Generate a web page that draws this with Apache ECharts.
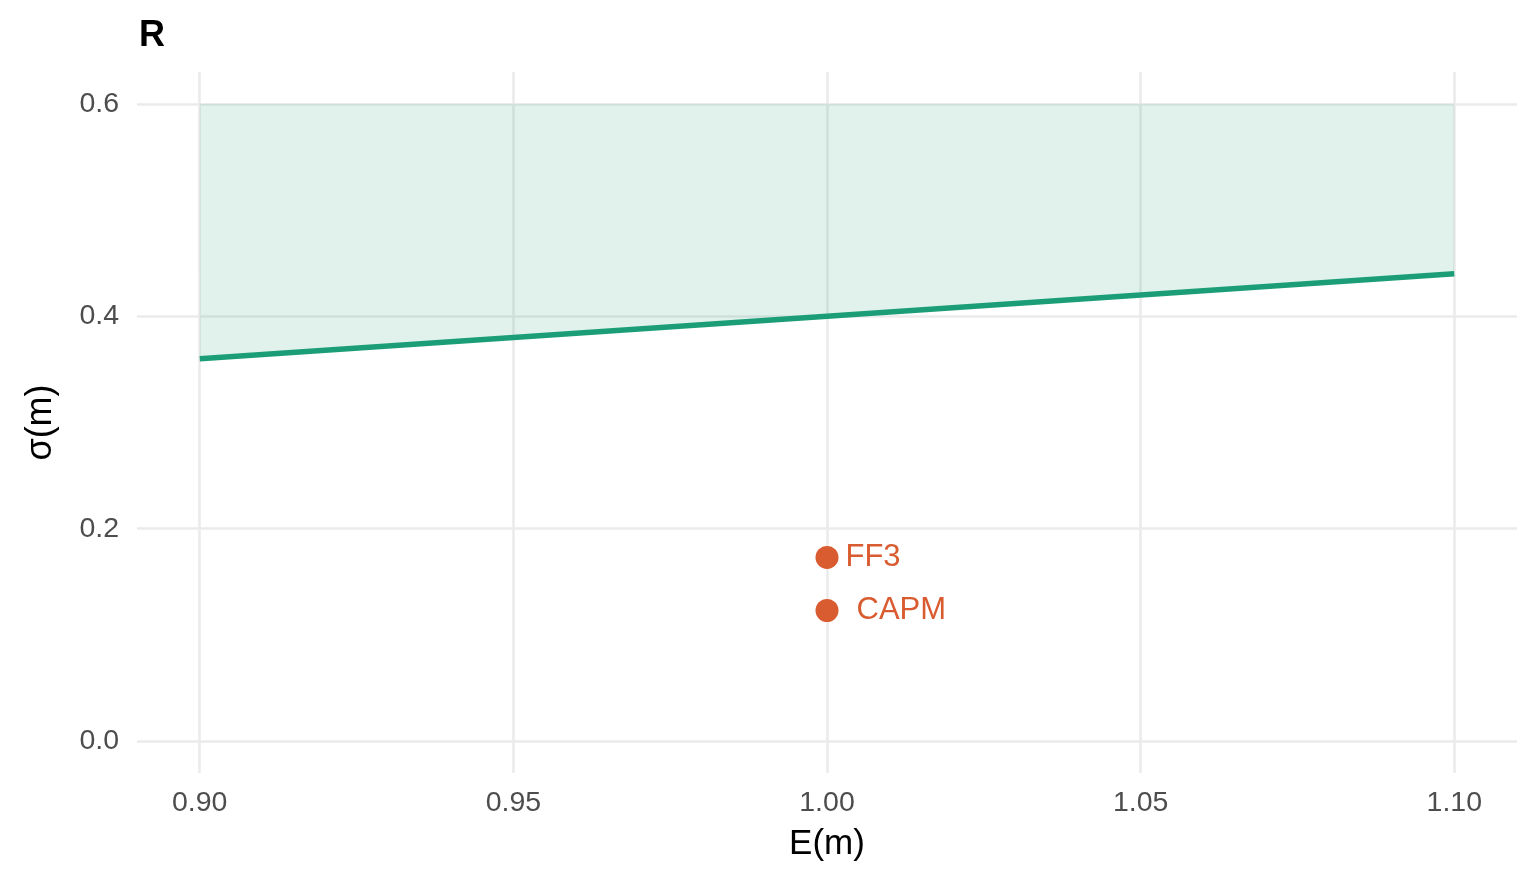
<!DOCTYPE html>
<html>
<head>
<meta charset="utf-8">
<script src="https://cdn.jsdelivr.net/npm/echarts@6/dist/echarts.min.js"></script>
<style>
html,body{margin:0;padding:0;background:#fff;}
#chart{width:1536px;height:883px;}
</style>
</head>
<body>
<div id="chart"></div>
<script>
// Data
var frontierE = [0.90, 1.10];
var frontierSigma = [0.36, 0.44];
var ribbonTop = 0.60;
var modelNames = ['FF3', 'CAPM'];
var modelE = [1.00, 1.00];
var modelSigma = [0.173, 0.123];
var xTicks = [0.90, 0.95, 1.00, 1.05, 1.10];
var yTicks = [0.0, 0.2, 0.4, 0.6];

var FONT = '"Liberation Sans", Arial, Helvetica, sans-serif';
var GREEN = '#1B9E77';
var ORANGE = '#D95B30';
var labelDistances = { 'FF3': 7, 'CAPM': 18 };

var chart = echarts.init(document.getElementById('chart'));

var lineData = frontierE.map(function (e, i) { return [e, frontierSigma[i]]; });
var pointData = modelNames.map(function (n, i) {
  return {
    name: n,
    value: [modelE[i], modelSigma[i]],
    label: { distance: labelDistances[n] }
  };
});

var gridLine = { show: true, lineStyle: { color: '#EBEBEB', width: 2.6 } };

chart.setOption({
  animation: false,
  backgroundColor: '#ffffff',
  title: {
    text: 'R',
    left: 134,
    top: 13,
    textStyle: { fontFamily: FONT, fontWeight: 'bold', fontSize: 36, color: '#000' }
  },
  grid: { left: 137, right: 19, top: 72, bottom: 110, containLabel: false },
  xAxis: {
    type: 'value',
    min: 0.89, max: 1.11,
    name: 'E(m)',
    nameLocation: 'middle',
    nameGap: 54,
    nameTextStyle: { fontFamily: FONT, fontSize: 35, color: '#000' },
    axisLine: { show: false },
    axisTick: { show: false, customValues: xTicks },
    splitLine: gridLine,
    axisLabel: {
      customValues: xTicks,
      margin: 16,
      fontFamily: FONT, fontSize: 28.5, color: '#4D4D4D',
      formatter: function (v) { return v.toFixed(2); }
    }
  },
  yAxis: {
    type: 'value',
    min: -0.03, max: 0.63,
    name: 'σ(m)',
    nameLocation: 'middle',
    nameGap: 78,
    nameTextStyle: { fontFamily: FONT, fontSize: 36, color: '#000' },
    axisLine: { show: false },
    axisTick: { show: false, customValues: yTicks },
    splitLine: gridLine,
    axisLabel: {
      customValues: yTicks,
      margin: 18,
      fontFamily: FONT, fontSize: 28.5, color: '#4D4D4D',
      verticalAlign: 'middle',
      formatter: function (v) { return v.toFixed(1); }
    }
  },
  series: [
    {
      type: 'custom',
      silent: true,
      z: 1,
      data: [0],
      renderItem: function (params, api) {
        var pts = [];
        for (var i = 0; i < frontierE.length; i++) pts.push(api.coord([frontierE[i], frontierSigma[i]]));
        for (var j = frontierE.length - 1; j >= 0; j--) pts.push(api.coord([frontierE[j], ribbonTop]));
        return {
          type: 'polygon',
          shape: { points: pts },
          style: { fill: 'rgba(27,158,119,0.13)', stroke: null }
        };
      }
    },
    {
      type: 'line',
      data: lineData,
      z: 3,
      symbol: 'none',
      lineStyle: { color: GREEN, width: 5.5 }
    },
    {
      type: 'scatter',
      data: pointData,
      z: 4,
      symbolSize: 23,
      itemStyle: { color: ORANGE, opacity: 1 },
      label: {
        show: true,
        position: 'right',
        formatter: '{b}',
        fontFamily: FONT,
        fontSize: 31,
        color: ORANGE,
        opacity: 1
      }
    }
  ]
});
</script>
</body>
</html>
